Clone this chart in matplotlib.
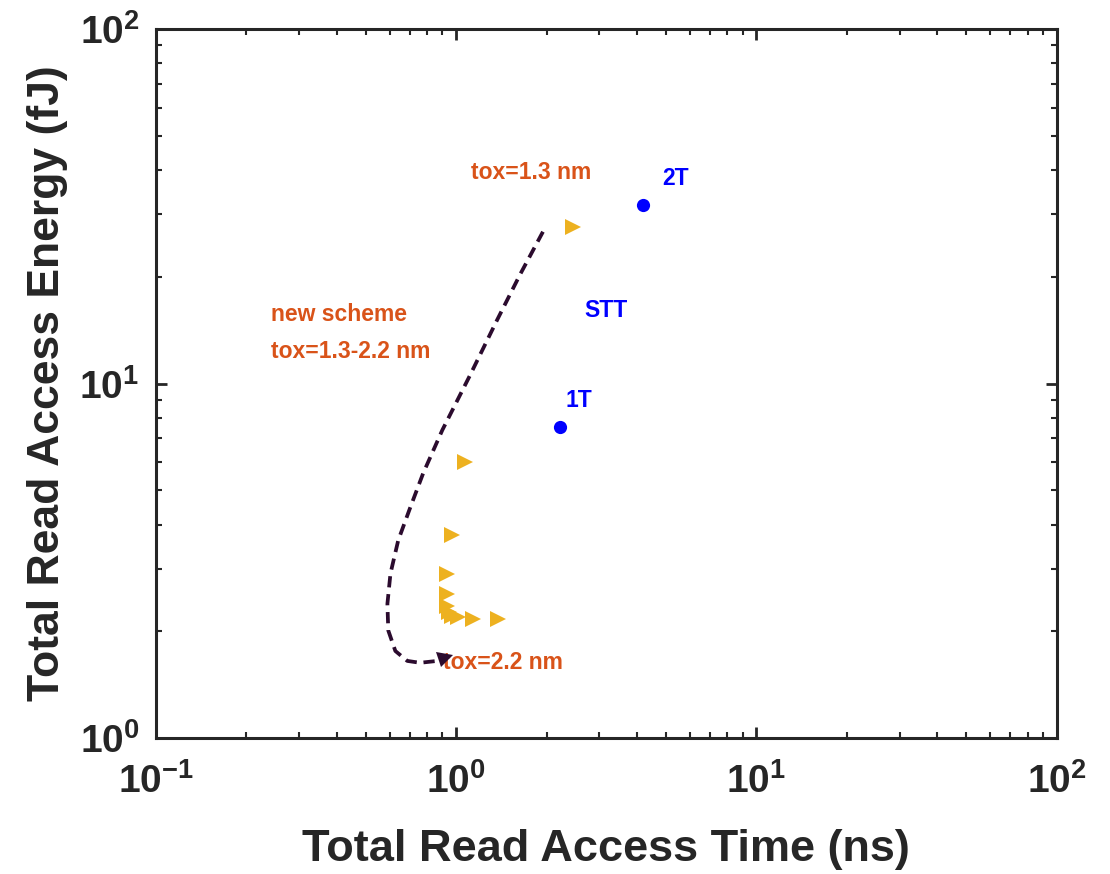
import matplotlib.pyplot as plt
from matplotlib.markers import MarkerStyle
from matplotlib.transforms import Affine2D

plt.rcParams['font.family'] = ['Liberation Sans', 'DejaVu Sans']
plt.rcParams['font.weight'] = 'bold'
plt.rcParams['mathtext.fontset'] = 'custom'
plt.rcParams['mathtext.rm'] = 'Liberation Sans:bold'
plt.rcParams['mathtext.default'] = 'rm'
plt.rcParams['axes.unicode_minus'] = False

# STT cells (1T, 2T)
stt_time = [2.22, 4.18]
stt_energy = [7.53, 31.8]
stt_names = ["1T", "2T"]

# new scheme, tox swept 1.3 -> 2.2 nm
new_time = [2.45, 1.07, 0.97, 0.933, 0.933, 0.933, 0.946, 0.97, 1.015, 1.14, 1.38]
new_energy = [27.7, 6.0, 3.75, 2.91, 2.54, 2.35, 2.27, 2.21, 2.19, 2.17, 2.17]

# hand-drawn trend arrow (time, energy)
trend_time = [1.945, 1.632, 1.368, 1.113, 0.899, 0.776, 0.703, 0.641, 0.604,
              0.590, 0.594, 0.627, 0.687, 0.758, 0.865]
trend_energy = [26.8, 20.3, 15.1, 10.57, 7.39, 5.58, 4.47, 3.61, 2.91,
                2.39, 2.01, 1.76, 1.65, 1.63, 1.65]
head_pos = (0.925, 1.69)

orange = '#D95319'
blue = '#0000FF'
yellow = '#EDB120'
dark = '#2B0B2E'
axcol = '#262626'

fig = plt.figure(figsize=(11.1, 8.74), dpi=100)
ax = fig.add_axes([0.1405, 0.1556, 0.8115, 0.8112])

ax.plot(new_time, new_energy, '>', color=yellow, markersize=12, markeredgewidth=0)
ax.plot(stt_time, stt_energy, 'o', color=blue, markersize=9.5, markeredgewidth=0)

fs = 16.5
ax.text(1.121, 39.4, 'tox=1.3 nm', color=orange, fontsize=fs, va='center', ha='left')
ax.text(0.241, 15.7, 'new scheme', color=orange, fontsize=fs, va='center', ha='left')
ax.text(0.241, 12.3, 'tox=1.3-2.2 nm', color=orange, fontsize=fs, va='center', ha='left')
ax.text(0.905, 1.63, 'tox=2.2 nm', color=orange, fontsize=fs, va='center', ha='left')
ax.text(4.87, 37.9, stt_names[1], color=blue, fontsize=fs, va='center', ha='left')
ax.text(2.32, 8.98, stt_names[0], color=blue, fontsize=fs, va='center', ha='left')
ax.text(2.68, 16.1, 'STT', color=blue, fontsize=fs, va='center', ha='left')

# trend arrow sits on top of the labels
ax.plot(trend_time, trend_energy, '--', color=dark, linewidth=2.7, dashes=(3.0, 1.8), zorder=5)
arrow_head = MarkerStyle('>', transform=Affine2D().rotate_deg(18))
ax.plot([head_pos[0]], [head_pos[1]], linestyle='none', marker=arrow_head,
        markersize=11, color=dark, markeredgewidth=0, zorder=6)

ax.set_xscale('log')
ax.set_yscale('log')
ax.set_xlim(0.1, 100)
ax.set_ylim(1, 100)

ax.set_xlabel('Total Read Access Time (ns)', fontsize=32.5, fontweight='bold', color=axcol, labelpad=20)
ax.set_ylabel('Total Read Access Energy (fJ)', fontsize=32, fontweight='bold', color=axcol, labelpad=8)

for s in ax.spines.values():
    s.set_linewidth(2.2)
    s.set_color(axcol)
ax.tick_params(which='both', direction='in', top=True, right=True, colors=axcol, width=2)
ax.tick_params(which='major', length=8, labelsize=28)
ax.tick_params(axis='x', which='major', pad=18)
ax.tick_params(axis='y', which='major', pad=12)
ax.tick_params(which='minor', length=4, width=1.5)

fig.savefig('out.png', dpi=100)
